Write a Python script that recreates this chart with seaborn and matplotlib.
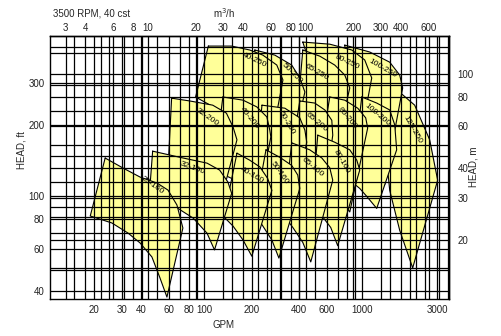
import matplotlib
matplotlib.use("Agg")
import matplotlib.pyplot as plt
import pandas as pd
import seaborn as sns

sns.set_theme(style="white")
plt.rcParams['font.family'] = ['Liberation Sans', 'DejaVu Sans']

GPM_PER_M3H = 4.403
FT_PER_M = 3.2808

# axis ranges (GPM, ft)
x_range = (10.5, 3560)
y_range = (37.0, 473.0)

# tick labels
gpm_ticks = [20, 30, 40, 60, 80, 100, 200, 400, 600, 1000, 3000]
m3h_ticks = [3, 4, 6, 8, 10, 20, 30, 40, 60, 80, 100, 200, 300, 400, 600]
ft_ticks = [40, 60, 80, 100, 200, 300]
m_ticks = [20, 30, 40, 60, 80, 100]

# grid lines
gpm_grid = [15, 20, 25, 30, 40, 50, 60, 70, 80, 90, 100, 150, 200, 250, 300, 400, 500, 600, 700,
            800, 900, 1000, 1500, 2000, 2500, 3000]
m3h_grid = [3, 4, 5, 6, 7, 8, 9, 10, 20, 30, 40, 50, 60, 70, 80, 90, 100,
            200, 300, 400, 500, 600, 700, 800]
ft_grid = [40, 50, 60, 70, 80, 90, 100, 200, 300, 400]
m_grid = [15, 20, 25, 30, 35, 40, 45, 50, 60, 70, 80, 90, 100, 130]

# pump coverage envelopes: flow (GPM) and head (ft) around each outline
pump_names = ["125-250", "100-250", "80-250", "65-250", "50-250", "40-250",
              "100-200", "80-200", "65-200", "50-200", "40-200", "32-200",
              "80-160", "65-160", "50-160", "40-160", "32-160", "25-160"]

pump_flow = {
    "25-160": [23.5, 30.5, 39.1, 50.1, 58.8, 67.0, 73.1, 57.9, 52.3, 46.5, 39.1, 32.8, 25.9, 18.9],
    "32-160": [47, 70, 104, 125, 141, 149, 116, 104, 85, 68, 45],
    "40-160": [161, 194, 225, 252, 268, 200, 176, 152, 133],
    "50-160": [246, 301, 358, 391, 403, 297, 268, 232, 206],
    "65-160": [358, 466, 556, 624, 652, 473, 421, 364, 319],
    "80-160": [524, 671, 836, 926, 967, 701, 633, 540, 480],
    "32-200": [62, 81, 113, 138, 152, 161, 125, 101, 81, 59],
    "40-200": [131, 176, 215, 249, 260, 264, 219, 180, 149, 115],
    "50-200": [232, 324, 403, 434, 446, 358, 301, 253, 209],
    "65-200": [403, 501, 581, 643, 652, 556, 466, 391, 338],
    "80-200": [624, 777, 939, 1055, 1086, 836, 701, 606, 524],
    "100-200": [996, 1239, 1498, 1612, 1658, 1239, 1071, 967, 861],
    "40-250": [106, 149, 194, 235, 288, 315, 253, 194, 141, 88],
    "50-250": [209, 280, 358, 403, 434, 338, 268, 215, 200],
    "65-250": [421, 540, 671, 777, 836, 624, 501, 403, 391],
    "80-250": [421, 624, 861, 1040, 1152, 861, 701, 581, 556],
    "100-250": [777, 1119, 1498, 1733, 1810, 1392, 1119, 967, 836],
    "125-250": [1119, 1612, 2157, 2685, 3017, 2095, 1733, 1498, 1392],
}
pump_head = {
    "25-160": [145, 131.6, 120.6, 113.8, 106.3, 92.0, 73.6, 37.7, 45.4, 55.6, 63.7, 70.1, 77.3, 82.7],
    "32-160": [155, 146, 138, 129, 115, 103, 59.5, 70, 81, 89, 106],
    "40-160": [152, 142, 133, 119, 106, 56, 65.5, 75, 82],
    "50-160": [157, 146, 135, 123, 108, 55, 65.5, 76, 83],
    "65-160": [168, 157, 145, 132, 117, 53, 64, 74, 83],
    "80-160": [181, 169, 157, 142, 129, 62, 74, 85, 92],
    "32-200": [259, 252, 242, 224, 196, 173, 92, 106, 119, 135],
    "40-200": [262, 254, 238, 216, 190, 178, 92, 106, 119, 129],
    "50-200": [242, 235, 214, 190, 169, 83.5, 98, 112, 123],
    "65-200": [252, 247, 231, 209, 181, 83.5, 98, 112, 123],
    "80-200": [262, 254, 235, 214, 194, 86, 101, 115, 127],
    "100-200": [262, 247, 231, 200, 157, 89, 100, 108, 115],
    "40-250": [429, 429, 413, 393, 357, 309, 142, 173, 220, 262],
    "50-250": [413, 393, 357, 315, 275, 132, 157, 200, 230],
    "65-250": [413, 389, 357, 324, 286, 123, 149, 190, 231],
    "80-250": [446, 437, 413, 375, 315, 112, 142, 190, 254],
    "100-250": [433, 405, 367, 324, 286, 112, 142, 190, 254],
    "125-250": [334, 286, 242, 173, 117, 50, 72, 106, 173],
}
# label anchor (GPM, ft) and text angle
label_flow = {"25-160": 46.5, "32-160": 84.6, "40-160": 200, "50-160": 301, "65-160": 487,
              "80-160": 743, "32-200": 104, "40-200": 194, "50-200": 333, "65-200": 517,
              "80-200": 801, "100-200": 1257, "40-250": 209, "50-250": 358, "65-250": 517,
              "80-250": 801, "100-250": 1350, "125-250": 2095}
label_head = {"25-160": 111.6, "32-160": 131.6, "40-160": 123, "50-160": 125.3, "65-160": 132.8,
              "80-160": 139.5, "32-200": 215.6, "40-200": 213.5, "50-200": 203.4, "65-200": 205.4,
              "80-200": 213.5, "100-200": 219.8, "40-250": 374.5, "50-250": 330.2, "65-250": 333.5,
              "80-250": 367.3, "100-250": 346.7, "125-250": 190.1}
label_angle = {"25-160": -35, "32-160": -20, "40-160": -30, "50-160": -55, "65-160": -40,
               "80-160": -60, "32-200": -35, "40-200": -50, "50-200": -60, "65-200": -40,
               "80-200": -50, "100-200": -40, "40-250": -25, "50-250": -45, "65-250": -30,
               "80-250": -25, "100-250": -30, "125-250": -60}

FILL = "#ffff99"

fig = plt.figure(figsize=(5.02, 3.36), dpi=100, facecolor="white")
ax = fig.add_axes([50 / 502, 37 / 336, 399 / 502, 263 / 336])
ax.set_xscale("log")
ax.set_yscale("log")
ax.set_xlim(*x_range)
ax.set_ylim(*y_range)
ax.set_facecolor("white")

for name in pump_names:
    q = pump_flow[name] + pump_flow[name][:1]
    h = pump_head[name] + pump_head[name][:1]
    ax.fill(q, h, color=FILL, lw=0, zorder=1)
    outline = pd.DataFrame({"gpm": q, "ft": h})
    sns.lineplot(data=outline, x="gpm", y="ft", sort=False, estimator=None,
                 color="black", lw=0.8, ax=ax, zorder=1)

for g in gpm_grid:
    ax.axvline(g, color="black", lw=0.9, zorder=2)
for m in m3h_grid:
    ax.axvline(m * GPM_PER_M3H, color="black", lw=0.9, zorder=2)
for f in ft_grid:
    ax.axhline(f, color="black", lw=0.9, zorder=2)
for m in m_grid:
    ax.axhline(m * FT_PER_M, color="black", lw=0.9, zorder=2)

for name in pump_names:
    ax.text(label_flow[name], label_head[name], name, rotation=label_angle[name],
            rotation_mode="anchor", ha="center", va="center", fontsize=6,
            color="black", zorder=3)

ax.set_xticks(gpm_ticks, [str(v) for v in gpm_ticks])
ax.set_yticks(ft_ticks, [str(v) for v in ft_ticks])
ax.minorticks_off()
ax.tick_params(length=0, labelsize=7, pad=4, colors="#222222")
ax.set_xlabel("")
ax.set_ylabel("")

top = ax.secondary_xaxis("top", functions=(lambda g: g / GPM_PER_M3H,
                                           lambda m: m * GPM_PER_M3H))
top.set_xticks(m3h_ticks, [str(v) for v in m3h_ticks])
top.minorticks_off()
top.tick_params(length=0, labelsize=7, pad=2, colors="#222222")

right = ax.secondary_yaxis("right", functions=(lambda f: f / FT_PER_M,
                                               lambda m: m * FT_PER_M))
right.set_yticks(m_ticks, [str(v) for v in m_ticks])
right.minorticks_off()
right.tick_params(length=0, labelsize=7, pad=6, colors="#222222")

for a in (ax, top, right):
    for s in a.spines.values():
        s.set_color("black")
        s.set_linewidth(1.0)

fig.text(53 / 502, 1 - 13 / 336, "3500 RPM, 40 cst", fontsize=7, ha="left", va="center")
fig.text(224 / 502, 1 - 13 / 336, "m$^3$/h", fontsize=7, ha="center", va="center")
fig.text(224 / 502, 1 - 325 / 336, "GPM", fontsize=7, ha="center", va="center")
fig.text(22 / 502, 1 - 150 / 336, "HEAD, ft", fontsize=7, rotation=90, ha="center", va="center")
fig.text(473 / 502, 1 - 167 / 336, "HEAD, m", fontsize=7, rotation=90, ha="center", va="center")

fig.savefig("out.png", dpi=100, facecolor="white")
